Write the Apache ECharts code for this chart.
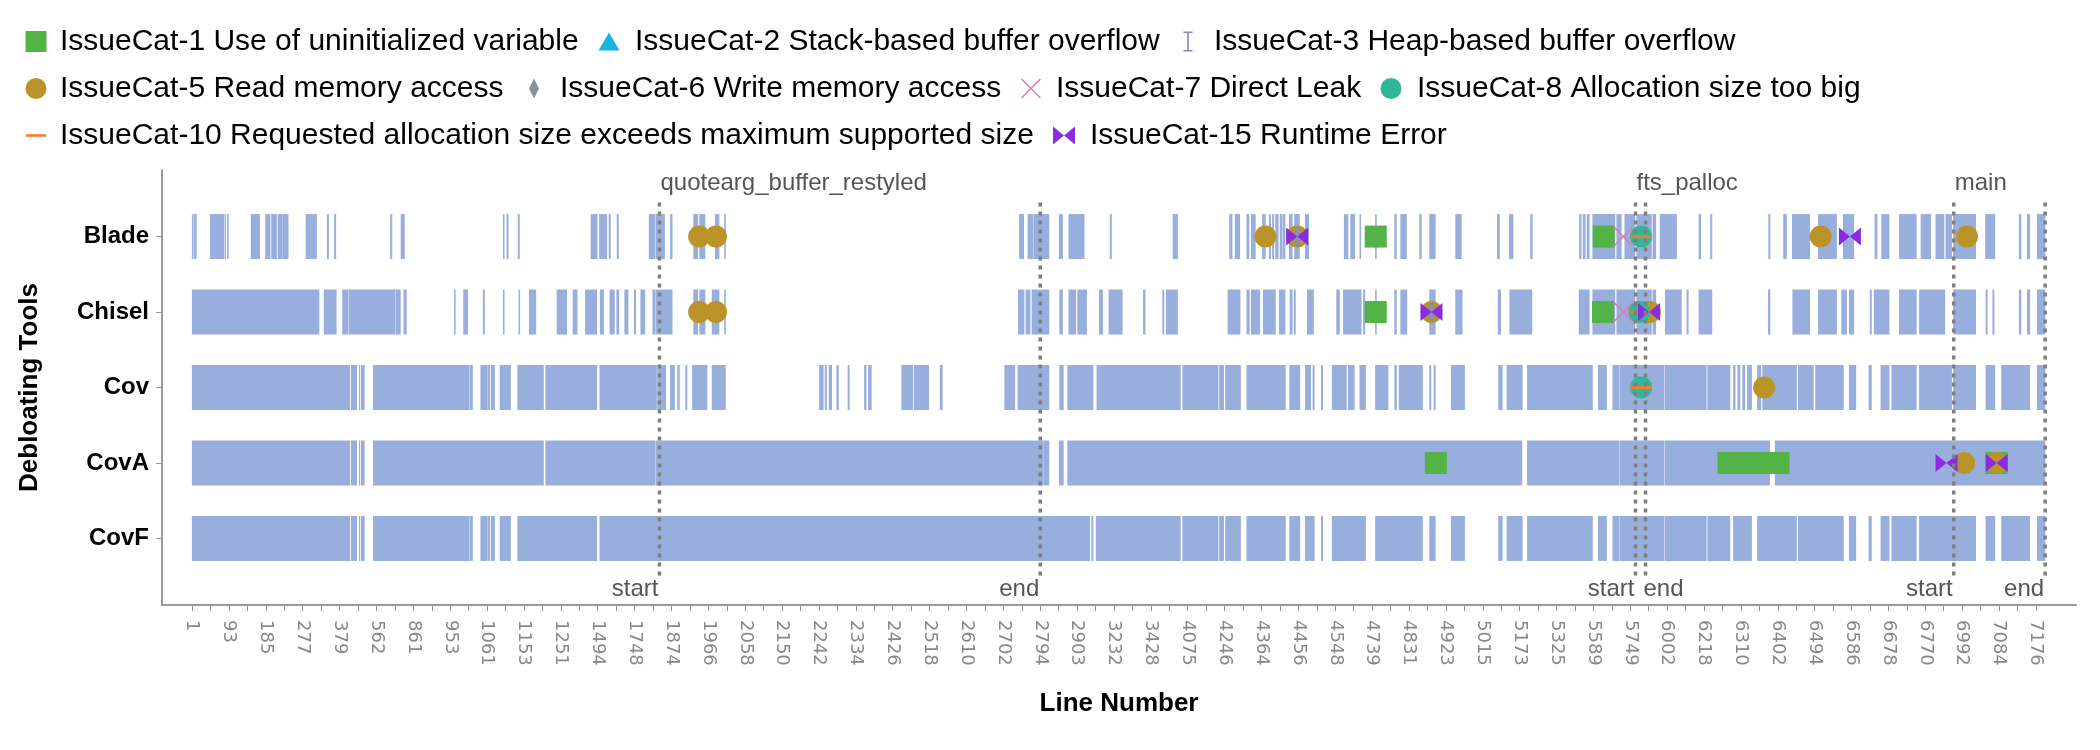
<!DOCTYPE html>
<html><head><meta charset="utf-8">
<script src="https://cdn.jsdelivr.net/npm/echarts@6/dist/echarts.min.js"></script>
<style>html,body{margin:0;padding:0;background:#fff}#c{width:2100px;height:750px}</style>
</head><body><div id="c"></div>
<script>
// ---------- data (positions are ordinal line positions on the x axis) ----------
const tools = ['Blade', 'Chisel', 'Cov', 'CovA', 'CovF'];
const tickLabels = ['1','93','185','277','379','562','861','953','1061','1153','1251','1494','1748','1874','1966','2058','2150','2242','2334','2426','2518','2610','2702','2794','2903','3232','3428','4075','4246','4364','4456','4548','4739','4831','4923','5015','5173','5325','5589','5749','6002','6218','6310','6402','6494','6586','6678','6770','6992','7084','7176'];
const labelStep = 92;
const tickStep = 46;

const bladeKept = [[0,2],[4,11],[45,80],[82,84],[88,91],[147,169],[183,195],[198,211],[214,225],[226,240],[284,296],[297,311],[337,341],[355,359],[495,499],[521,530],[776,779],[785,789],[813,817],[995,1011],[1016,1035],[1040,1044],[1060,1064],
[1140,1155],[1157,1179],[1193,1198],[1251,1262],[1266,1280],[1305,1315],[1328,1331],[2064,2075],[2085,2099],[2101,2138],[2163,2172],[2187,2226],
[2290,2294],[2447,2459],[2588,2595],[2602,2614],[2631,2637],[2642,2653],[2670,2678],[2687,2691],[2695,2699],[2703,2710],[2714,2720],[2722,2727],[2737,2745],[2750,2763],[2777,2786],[2874,2884],[2890,2901],[2913,2916],[2952,2955],[3000,3005],[3015,3030],[3062,3067],[3087,3102],[3152,3167],[3256,3262],[3286,3296],[3339,3344],
[3461,3466],[3470,3476],[3480,3486],[3494,3550],[3554,3566],[3574,3600],[3604,3641],[3644,3652],[3662,3704],[3759,3764],[3788,3792],[3933,3937],[3970,3978],[3992,4036],[4057,4103],[4119,4146],[4198,4204],[4215,4234],[4259,4302],[4313,4338],[4350,4371],[4375,4390],[4394,4450],[4474,4498],[4558,4563],[4578,4585],[4603,4623]];

const chiselKept = [[0,317],[329,360],[375,389],[391,507],[509,520],[528,535],[654,657],[677,688],[726,730],[776,779],[815,818],[841,858],[910,935],[950,961],[981,1010],[1018,1027],[1042,1054],[1059,1065],[1079,1088],[1103,1107],[1119,1130],[1149,1156],[1158,1198],[1251,1262],[1266,1280],[1297,1315],[1328,1331],
[2061,2076],[2080,2091],[2095,2138],[2164,2172],[2187,2205],[2209,2232],[2263,2272],[2287,2321],[2373,2378],[2421,2425],[2430,2459],[2584,2615],[2631,2638],[2642,2664],[2672,2703],[2712,2727],[2739,2745],[2749,2753],[2782,2798],[2855,2863],[2872,2917],[2922,2926],[2952,2955],[3000,3005],[3015,3031],[3087,3102],[3152,3169],[3258,3265],[3287,3343],
[3460,3486],[3494,3550],[3554,3600],[3604,3641],[3644,3652],[3675,3716],[3729,3733],[3759,3792],[3932,3937],[3993,4036],[4057,4103],[4115,4128],[4134,4146],[4186,4190],[4196,4234],[4259,4302],[4309,4373],[4394,4450],[4475,4479],[4492,4496],[4558,4563],[4578,4585],[4603,4623]];

const covKept = [[0,394],[397,411],[417,419],[422,430],[452,692],[694,700],[720,737],[739,743],[746,755],[768,795],[812,877],[882,1010],[1017,1159],[1161,1182],[1193,1204],[1211,1216],[1231,1235],[1248,1285],[1297,1331],
[1565,1575],[1579,1583],[1589,1596],[1608,1613],[1636,1640],[1677,1682],[1687,1695],[1770,1798],[1801,1838],[1866,1872],
[2027,2053],[2060,2138],[2164,2174],[2184,2248],[2257,2466],[2471,2560],[2563,2574],[2578,2616],[2631,2728],[2738,2764],[2777,2791],[2796,2800],[2817,2821],[2844,2880],[2884,2900],[2913,2928],[2952,2984],[3000,3005],[3011,3070],[3087,3091],[3098,3102],[3141,3175],[3259,3269],[3280,3319],
[3331,3494],[3508,3529],[3544,3561],[3563,3672],[3674,3778],[3781,3837],[3845,3850],[3856,3862],[3868,3874],[3880,3891],[3905,3914],[3918,4003],[4007,4045],[4050,4120],[4134,4151],[4183,4190],[4213,4234],[4240,4302],[4309,4390],[4394,4450],[4475,4498],[4514,4585],[4603,4623]];

const covAKept = [[0,394],[397,411],[417,419],[422,430],[452,877],[882,1156],[1158,2124],[2125,2138],[2163,2174],[2184,3318],[3331,3561],[3563,3672],[3674,3936],[3949,4623]];

const covFKept = [[0,394],[397,411],[417,419],[422,430],[452,692],[694,700],[720,737],[739,743],[746,755],[768,795],[812,1010],[1017,2240],[2244,2248],[2255,2466],[2471,2560],[2563,2574],[2578,2616],[2631,2728],[2738,2764],[2777,2800],[2817,2821],[2844,2928],[2952,3070],[3087,3102],[3141,3175],[3259,3269],[3280,3319],
[3331,3494],[3508,3529],[3544,3561],[3563,3672],[3674,3778],[3781,3837],[3845,3891],[3905,4003],[4007,4120],[4134,4151],[4183,4190],[4213,4234],[4240,4302],[4309,4450],[4475,4498],[4514,4585],[4603,4623]];

// issues: [line position, tool index]
const cat1 = [[2953,0],[3522,0],[2953,1],[3520,1],[3103,3],[3833,3],[3862,3],[3887,3],[3913,3],[3940,3],[3958,3],[4502,3]];
const cat2 = [];
const cat3 = [];
const cat5 = [[1265,0],[1307,0],[2678,0],[2757,0],[4063,0],[4428,0],[1265,1],[1307,1],[3092,1],[3637,1],[3922,2],[4421,3],[4502,3]];
const cat6 = [[2757,0],[3092,1]];
const cat7 = [[3571,0],[3571,1]];
const cat8 = [[3615,0],[3611,1],[3615,2]];
const cat10 = [[3615,0],[3611,1],[3615,2]];
const cat15 = [[2757,0],[4136,0],[3092,1],[3635,1],[4377,3],[4502,3]];

const funcNames = ['quotearg_buffer_restyled', 'fts_palloc', 'main'];
const funcStart = [1166, 3601, 4395];
const funcEnd = [2116, 3626, 4623];

// ---------- chart ----------
const FONT = '"Liberation Sans", Arial, sans-serif';
const P = {
  square: 'path://M0,0H10V10H0Z',
  tri: 'path://M0,18L10.5,0L21,18Z',
  ibeam: 'path://M0,0H9V1.6H5.3V18.4H9V20H0V18.4H3.7V1.6H0Z',
  diamond: 'path://M5,0L10,10L5,20L0,10Z',
  cross: 'path://M0,1.1L1.1,0L10,8.9L18.9,0L20,1.1L11.1,10L20,18.9L18.9,20L10,11.1L1.1,20L0,18.9L8.9,10Z',
  dash: 'path://M0,0H20V2.6H0Z',
  bowtie: 'path://M0,0L11,9L0,18Z M22,0L11,9L22,18Z'
};
// legend layout: icon centre (cx), text start (tx), icon box (iw x ih)
const issues = [
  {name:'IssueCat-1 Use of uninitialized variable', data:cat1, symbol:'rect', size:22, color:'#54b347', icon:P.square, iw:21, ih:21, cx:36, tx:60, row:0},
  {name:'IssueCat-2 Stack-based buffer overflow', data:cat2, symbol:P.tri, size:[21,18], color:'#19b2e1', icon:P.tri, iw:21, ih:18, cx:609, tx:635, row:0},
  {name:'IssueCat-3 Heap-based buffer overflow', data:cat3, symbol:P.ibeam, size:[9,20], color:'#8c84c6', icon:P.ibeam, iw:9, ih:20, cx:1188, tx:1214, row:0},
  {name:'IssueCat-5 Read memory access', data:cat5, symbol:'circle', size:22, color:'#bb9429', icon:'circle', iw:21, ih:21, cx:36, tx:60, row:1},
  {name:'IssueCat-6 Write memory access', data:cat6, symbol:P.diamond, size:[11,22], color:'#8a929e', icon:P.diamond, iw:10, ih:20, cx:534, tx:560, row:1},
  {name:'IssueCat-7 Direct Leak', data:cat7, symbol:P.cross, size:[20,20], color:'#d47fb6', icon:P.cross, iw:20, ih:20, cx:1031, tx:1056, row:1},
  {name:'IssueCat-8 Allocation size too big', data:cat8, symbol:'circle', size:22, color:'#2fb79a', icon:'circle', iw:21, ih:21, cx:1391, tx:1417, row:1},
  {name:'IssueCat-10 Requested allocation size exceeds maximum supported size', data:cat10, symbol:P.dash, size:[21,3], color:'#f47c2c', icon:P.dash, iw:20, ih:2.6, cx:36, tx:60, row:2},
  {name:'IssueCat-15 Runtime Error', data:cat15, symbol:P.bowtie, size:[22,18], color:'#8a2be2', icon:P.bowtie, iw:22, ih:18, cx:1064, tx:1090, row:2}
];
const rowTop = [26.5, 73.5, 120.5];

const keptByTool = [bladeKept, chiselKept, covKept, covAKept, covFKept];
const barData = [];
keptByTool.forEach((segs, t) => segs.forEach(s => barData.push([s[0], s[1], t])));
const funcData = funcNames.map((n, i) => [funcStart[i], funcEnd[i], i]);

const labelValues = tickLabels.map((_, i) => i * labelStep);
const tickValues = [];
for (let v = 0; v <= labelValues[labelValues.length - 1]; v += tickStep) tickValues.push(v);

const chart = echarts.init(document.getElementById('c'), null, {renderer: 'canvas'});
const lineStyle = {stroke: '#7f7f7f', lineWidth: 3.5, lineDash: [4, 5]};
const txt = (s, x, y, align) => ({type: 'text', x, y, style: {text: s, fill: '#555', fontSize: 24, fontFamily: FONT, align, verticalAlign: 'middle'}});

const option = {
  animation: false,
  textStyle: {fontFamily: FONT},
  legend: issues.map(it => {
    const left = it.cx - it.iw / 2;
    const pad = Math.max(0, it.tx - (left + it.iw + 5));
    return {
      data: [{name: it.name, icon: it.icon}],
      left: left, top: rowTop[it.row], padding: 0,
      itemWidth: it.iw, itemHeight: it.ih, selectedMode: false,
      textStyle: {fontSize: 30, color: '#000', fontFamily: FONT, padding: [0, 0, 0, pad]}
    };
  }),
  grid: {left: 162, right: 24, top: 170, bottom: 145, containLabel: false},
  xAxis: {
    type: 'value', min: -75, max: 4700,
    name: 'Line Number', nameLocation: 'middle', nameGap: 86,
    nameTextStyle: {fontSize: 26, fontWeight: 'bold', color: '#000', fontFamily: FONT},
    axisLine: {show: true, onZero: false, lineStyle: {color: '#999', width: 2}},
    axisTick: {show: true, length: 6, customValues: tickValues, lineStyle: {color: '#999'}},
    axisLabel: {customValues: labelValues, rotate: -90, margin: 15, fontSize: 18, color: '#888', fontFamily: '"DejaVu Sans", sans-serif',
      formatter: v => tickLabels[Math.round(v / labelStep)]},
    splitLine: {show: false}
  },
  yAxis: {
    type: 'value', inverse: true, min: -0.882, max: 4.882,
    name: 'Debloating Tools', nameLocation: 'middle', nameGap: 119,
    nameTextStyle: {fontSize: 26, fontWeight: 'bold', color: '#000', fontFamily: FONT},
    axisLine: {show: true, onZero: false, lineStyle: {color: '#999', width: 2}},
    axisTick: {show: true, length: 6, customValues: [0, 1, 2, 3, 4], lineStyle: {color: '#999'}},
    axisLabel: {customValues: [0, 1, 2, 3, 4], margin: 13, fontSize: 24, fontWeight: 'bold', color: '#000', fontFamily: FONT,
      formatter: v => tools[Math.round(v)]},
    splitLine: {show: false}
  },
  series: [
    {
      type: 'custom', name: 'kept', silent: true, z: 1,
      data: barData, encode: {x: [0, 1], y: 2},
      renderItem: (params, api) => {
        const t = api.value(2);
        const p0 = api.coord([api.value(0) - 0.5, t]);
        const p1 = api.coord([api.value(1) + 0.5, t]);
        const h = api.size([0, 1])[1] * 0.596;
        const w = Math.max(p1[0] - p0[0], 1.2);
        return {type: 'rect', shape: {x: p0[0], y: p0[1] - h / 2, width: w, height: h}, style: {fill: '#98afdd'}};
      }
    },
    ...issues.map(it => ({
      name: it.name, type: 'scatter', data: it.data, symbol: it.symbol, symbolSize: it.size,
      itemStyle: {color: it.color, opacity: 1}, z: 2, silent: true
    })),
    {
      type: 'custom', name: 'functions', silent: true, z: 5,
      data: funcData, encode: {x: [0, 1]},
      renderItem: (params, api) => {
        const i = api.value(2);
        const xs = api.coord([api.value(0), 0])[0];
        const xe = api.coord([api.value(1), 0])[0];
        const yTop = api.coord([0, -0.45])[1];
        const yBot = api.coord([0, 4.53])[1];
        const yName = api.coord([0, -0.71])[1];
        const yLab = api.coord([0, 4.67])[1];
        const narrow = xe - xs < 60;
        return {type: 'group', children: [
          {type: 'line', shape: {x1: xs, y1: yTop, x2: xs, y2: yBot}, style: lineStyle},
          {type: 'line', shape: {x1: xe, y1: yTop, x2: xe, y2: yBot}, style: lineStyle},
          txt(funcNames[i], xs + 1, yName, 'left'),
          txt('start', xs - 1, yLab, 'right'),
          narrow ? txt('end', xe - 2, yLab, 'left') : txt('end', xe - 1, yLab, 'right')
        ]};
      }
    }
  ]
};
chart.setOption(option);
</script></body></html>
